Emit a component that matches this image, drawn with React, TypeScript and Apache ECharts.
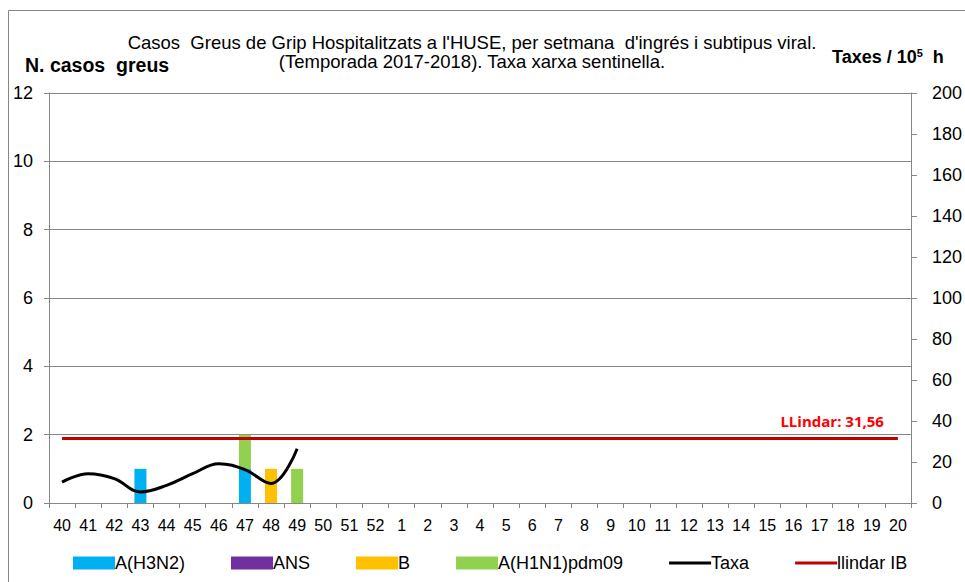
import React, { useEffect, useRef } from "react";
import * as echarts from "echarts";

const WEEKS = ["40","41","42","43","44","45","46","47","48","49","50","51","52","1","2","3","4","5","6","7","8","9","10","11","12","13","14","15","16","17","18","19","20"];
// Bar series (cases) for weeks 40..49; remaining weeks empty
const H3N2 = [null, null, null, 1, null, null, null, 1, null, null];
const ANS = [null, null, null, null, null, null, null, null, null, null];
const B = [null, null, null, null, null, null, null, null, 1, null];
const H1N1 = [null, null, null, null, null, null, null, 1, null, 1];
// Sentinel network rate per 10^5 inhabitants
const TAXA = [10.2, 14.3, 11.9, 5.4, 8.6, 14.3, 19.2, 16.3, 9.5, 26.5];
const LLINDAR = 31.56;
const LEFT_TICKS = { min: 0, max: 12, interval: 2 };
const RIGHT_TICKS = { min: 0, max: 200, interval: 20 };

const FONT = "'Liberation Sans', Arial, sans-serif";
const AXIS_GRAY = "#868686";
const LINE_ICON = "path://M0,0L42,0L42,3L0,3Z";

export default function App() {
  const ref = useRef<HTMLDivElement>(null);
  useEffect(() => {
    if (!ref.current) return;
    const chart = echarts.init(ref.current, null, { renderer: "svg" });
    const barBase = {
      type: "bar",
      stack: "casos",
      barWidth: 12,
      yAxisIndex: 0,
    };
    chart.setOption({
      animation: false,
      backgroundColor: "#ffffff",
      textStyle: { fontFamily: FONT },
      title: {
        text: "Casos  Greus de Grip Hospitalitzats a l'HUSE, per setmana  d'ingrés i subtipus viral.\n(Temporada 2017-2018). Taxa xarxa sentinella.",
        left: 467,
        top: 28,
        textAlign: "center",
        textStyle: { fontFamily: FONT, fontSize: 18.5, fontWeight: "normal", color: "#000", lineHeight: 19 },
      },
      graphic: [
        {
          type: "rect",
          shape: { x: 8.5, y: 10.5, width: 1200, height: 1200 },
          style: { fill: "none", stroke: AXIS_GRAY, lineWidth: 1 },
          silent: true,
        },
        {
          type: "text",
          x: 25,
          y: 65,
          style: { text: "N. casos  greus", font: `bold 19.5px ${FONT}`, fill: "#000", verticalAlign: "middle" },
        },
        {
          type: "text",
          x: 832,
          y: 57,
          style: {
            text: "{a|Taxes / 10}{s|5}{a|  h}",
            verticalAlign: "middle",
            rich: {
              a: { font: `bold 18px ${FONT}`, fill: "#000" },
              s: { font: `bold 11px ${FONT}`, fill: "#000", verticalAlign: "top", padding: [0, 0, 8, 0] },
            },
          },
        },
      ],
      legend: {
        left: 68,
        top: 549,
        itemWidth: 42,
        itemHeight: 13,
        itemGap: 46,
        textStyle: { fontFamily: FONT, fontSize: 18, color: "#000", padding: [0, 0, 0, -5] },
        data: [
          { name: "A(H3N2)", icon: "rect" },
          { name: "ANS", icon: "rect" },
          { name: "B", icon: "rect" },
          { name: "A(H1N1)pdm09", icon: "rect" },
          { name: "Taxa", icon: LINE_ICON },
          { name: "llindar IB", icon: LINE_ICON },
        ],
      },
      grid: { left: 49, right: 54, top: 93, bottom: 79, containLabel: false },
      xAxis: {
        type: "category",
        data: WEEKS,
        boundaryGap: true,
        axisLine: { lineStyle: { color: AXIS_GRAY, width: 1 } },
        axisTick: { show: true, length: 5, lineStyle: { color: AXIS_GRAY } },
        axisLabel: { interval: 0, fontFamily: FONT, fontSize: 16, color: "#000", margin: 14 },
      },
      yAxis: [
        {
          type: "value",
          position: "left",
          ...LEFT_TICKS,
          axisLine: { show: true, lineStyle: { color: AXIS_GRAY, width: 1 } },
          axisTick: { show: true, length: 5, lineStyle: { color: AXIS_GRAY } },
          splitLine: { show: true, lineStyle: { color: AXIS_GRAY, width: 1 } },
          axisLabel: { fontFamily: FONT, fontSize: 18, color: "#000", margin: 16 },
        },
        {
          type: "value",
          position: "right",
          ...RIGHT_TICKS,
          axisLine: { show: true, lineStyle: { color: AXIS_GRAY, width: 1 } },
          axisTick: { show: true, length: 6, lineStyle: { color: AXIS_GRAY } },
          splitLine: { show: false },
          axisLabel: { fontFamily: FONT, fontSize: 18, color: "#000", margin: 21 },
        },
      ],
      series: [
        { ...barBase, name: "A(H3N2)", data: H3N2, itemStyle: { color: "#00b0f0" } },
        { ...barBase, name: "ANS", data: ANS, itemStyle: { color: "#7030a0" } },
        { ...barBase, name: "B", data: B, itemStyle: { color: "#ffc000" } },
        { ...barBase, name: "A(H1N1)pdm09", data: H1N1, itemStyle: { color: "#92d050" } },
        {
          type: "line",
          name: "Taxa",
          yAxisIndex: 1,
          data: TAXA,
          smooth: 0.4,
          showSymbol: false,
          symbol: "none",
          lineStyle: { color: "#000", width: 3 },
          itemStyle: { color: "#000" },
          z: 5,
        },
        {
          type: "line",
          name: "llindar IB",
          yAxisIndex: 1,
          data: [],
          symbol: "none",
          lineStyle: { color: "#c00000", width: 3 },
          itemStyle: { color: "#c00000" },
          markLine: {
            silent: true,
            symbol: "none",
            lineStyle: { color: "#c00000", width: 3, type: "solid" },
            label: {
              show: true,
              position: "insideEndTop",
              formatter: "LLindar: 31,56",
              color: "#ff0000",
              fontWeight: "bold",
              fontSize: 15,
              fontFamily: "'Open Sans', " + FONT,
              distance: [14, 10],
            },
            data: [[{ coord: [WEEKS[0], LLINDAR] }, { coord: [WEEKS[WEEKS.length - 1], LLINDAR] }]],
          },
        },
      ],
    });
    return () => chart.dispose();
  }, []);
  return <div ref={ref} style={{ position: "absolute", left: 0, top: 0, width: 965, height: 582 }} />;
}
